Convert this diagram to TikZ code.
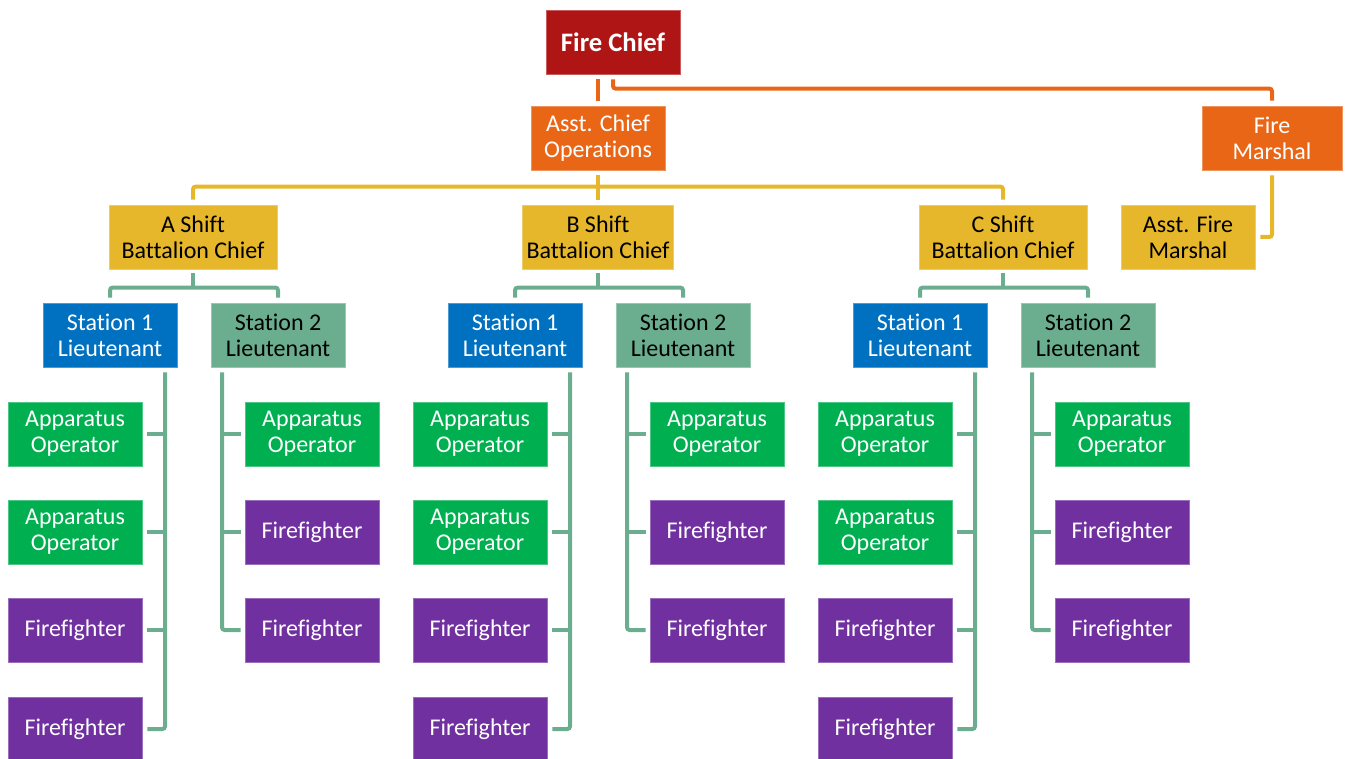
\documentclass[tikz,border=0pt]{standalone}
\usepackage{fontspec}
\setmainfont{Carlito}[Ligatures=NoCommon]
\usetikzlibrary{calc}

\definecolor{chiefred}{HTML}{B01516}
\definecolor{fireorange}{HTML}{EA6617}
\definecolor{shiftgold}{HTML}{E6B72A}
\definecolor{stblue}{HTML}{0070C0}
\definecolor{stsage}{HTML}{6BAE8F}
\definecolor{opgreen}{HTML}{00B050}
\definecolor{ffpurple}{HTML}{7030A0}

\begin{document}
\begin{tikzpicture}[x=0.75pt,y=0.75pt,
  box/.style={rectangle,minimum width=100.5pt,minimum height=48pt,inner sep=0pt,align=center,
    font=\fontsize{18}{19.5}\selectfont,line width=0.6pt},
  whitebox/.style={box,fill=#1,draw=#1!70!white,text=white},
  darkbox/.style={box,fill=#1,draw=#1!70!white,text=black},
  link/.style={line width=3pt,draw=#1,rounded corners=2pt}]
\useasboundingbox (0,0) rectangle (1345,-759);

\node[whitebox=chiefred,font=\fontsize{20}{24}\selectfont\bfseries] (chief) at (613,-42) {Fire Chief};
\node[whitebox=fireorange] (ops) at (598,-138) {Asst. Chief\\Operations};
\node[whitebox=fireorange,minimum width=105pt] (marshal) at (1272,-138) {Fire\\Marshal};
\node[darkbox=shiftgold] (amarshal) at (1188,-237) {Asst. Fire\\Marshal};

\draw[link=fireorange] ($(chief.south -| ops.north)+(0,-5)$) -- ($(ops.north)+(0,5)$);
\draw[link=fireorange] ($(chief.south)+(0,-5)$) |- ($(marshal.north)+(0,17)$) -- ($(marshal.north)+(0,5)$);
\draw[link=shiftgold] ($(marshal.south)+(0,-5)$) |- ($(amarshal.east)+(5,0)$);

\foreach \g/\dx/\w in {A/0/126pt,B/405/113pt,C/810/126pt}{
  \node[darkbox=shiftgold,minimum width=\w] (shift\g) at (193+\dx,-237) {\g{} Shift\\Battalion Chief};
  \node[whitebox=stblue] (stone\g) at (110+\dx,-335) {Station 1\\Lieutenant};
  \node[darkbox=stsage] (sttwo\g) at (278+\dx,-335) {Station 2\\Lieutenant};
  \node[whitebox=opgreen] (opa\g) at (75+\dx,-434) {Apparatus\\Operator};
  \node[whitebox=opgreen] (opb\g) at (75+\dx,-532) {Apparatus\\Operator};
  \node[whitebox=ffpurple] (ffa\g) at (75+\dx,-630) {Firefighter};
  \node[whitebox=ffpurple] (ffb\g) at (75+\dx,-729) {Firefighter};
  \node[whitebox=opgreen] (opc\g) at (312+\dx,-434) {Apparatus\\Operator};
  \node[whitebox=ffpurple] (ffc\g) at (312+\dx,-532) {Firefighter};
  \node[whitebox=ffpurple] (ffd\g) at (312+\dx,-630) {Firefighter};

  \draw[link=stsage] ($(shift\g.south)+(0,-4)$) -- ($(shift\g.south |- stone\g.north)+(0,15)$);
  \draw[link=stsage] ($(stone\g.north)+(0,5)$) |- ($(shift\g.south |- stone\g.north)+(0,15)$) -| ($(sttwo\g.north)+(0,5)$);

  \coordinate (tone\g) at ($(stone\g.south)+(55,-5)$);
  \draw[link=stsage] (tone\g) |- ($(ffb\g.east)+(5,0)$);
  \foreach \kid in {opa,opb,ffa}
    \draw[link=stsage] ($(\kid\g.east)+(5,0)$) -- (\kid\g.east -| tone\g);

  \coordinate (ttwo\g) at ($(sttwo\g.south)+(-56,-5)$);
  \draw[link=stsage] (ttwo\g) |- ($(ffd\g.west)+(-4,0)$);
  \foreach \kid in {opc,ffc}
    \draw[link=stsage] ($(\kid\g.west)+(-4,0)$) -- (\kid\g.west -| ttwo\g);
}

\draw[link=shiftgold] ($(ops.south)+(0,-5)$) -- ($(shiftB.north)+(0,5)$);
\draw[link=shiftgold] ($(shiftA.north)+(0,5)$) |- ($(shiftB.north)+(0,18)$) -| ($(shiftC.north)+(0,5)$);
\end{tikzpicture}
\end{document}
